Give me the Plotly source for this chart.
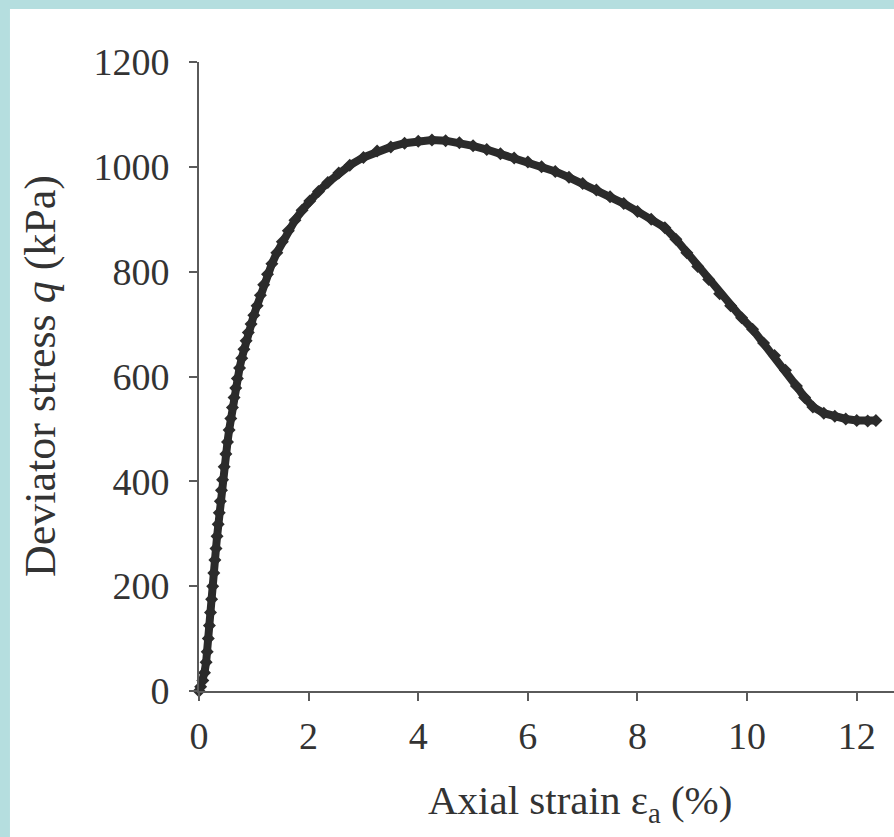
import plotly.graph_objects as go

# Axial strain (%) and deviator stress q (kPa) from the triaxial test
strain = [
    0.00, 0.03, 0.07, 0.10, 0.13, 0.15, 0.17, 0.19, 0.21, 0.23,
    0.25, 0.27, 0.29, 0.31, 0.33, 0.35, 0.37, 0.39, 0.41, 0.43,
    0.46, 0.49, 0.52, 0.55, 0.58, 0.61, 0.64, 0.67, 0.70, 0.74,
    0.78, 0.82, 0.86, 0.90, 0.95, 1.00, 1.06, 1.12, 1.18, 1.25,
    1.33, 1.42, 1.52, 1.63, 1.75, 1.88, 2.02, 2.18, 2.35, 2.55,
    2.75, 3.00, 3.25, 3.50, 3.75, 4.00, 4.25, 4.50, 4.75, 5.00,
    5.25, 5.50, 5.75, 6.00, 6.25, 6.50, 6.75, 7.00, 7.25, 7.50,
    7.75, 8.00, 8.25, 8.50, 8.70, 8.90, 9.10, 9.30, 9.50, 9.70,
    9.90, 10.10, 10.30, 10.50, 10.70, 10.90, 11.05, 11.20, 11.40, 11.60,
    11.80, 12.00, 12.20, 12.35,
]
stress = [
    0, 8, 20, 35, 55, 75, 100, 125, 150, 175,
    200, 225, 250, 272, 295, 318, 340, 362, 383, 403,
    428, 452, 475, 498, 520, 541, 560, 578, 596, 616,
    635, 652, 668, 684, 700, 717, 735, 755, 775, 795,
    815, 836, 857, 878, 898, 917, 935, 953, 970, 988,
    1003, 1018, 1030, 1038, 1045, 1049, 1051, 1050, 1046, 1040,
    1033, 1025, 1017, 1009, 1000, 991, 980, 968, 956, 943,
    930, 915, 900, 884, 862, 836, 810, 785, 758, 735,
    712, 690, 664, 640, 612, 582, 560, 542, 530, 524,
    519, 516, 515, 516,
]

x_ticks = [0, 2, 4, 6, 8, 10, 12]
y_ticks = [0, 200, 400, 600, 800, 1000, 1200]

FONT = "Liberation Serif"
INK = "#2b2b2b"
AXIS = "#5a5a5a"
FRAME = "#b5dedf"

fig = go.Figure()
fig.add_trace(go.Scatter(
    x=strain, y=stress, mode="lines+markers",
    line=dict(color=INK, width=8),
    marker=dict(symbol="diamond", size=10, color=INK),
    cliponaxis=False, showlegend=False,
))

axis_common = dict(
    showgrid=False, zeroline=False, showline=True, linecolor=AXIS, linewidth=2,
    ticks="outside", ticklen=8, tickwidth=2, tickcolor=AXIS,
    tickfont=dict(family=FONT, size=38, color="#333333"),
)
fig.update_xaxes(range=[0, 12.68], tickvals=x_ticks, ticklabelstandoff=2, **axis_common)
fig.update_yaxes(range=[0, 1200], tickvals=y_ticks, ticklabelstandoff=12, **axis_common)

# white page inside a light frame along the top and left edges
fig.add_shape(type="rect", xref="paper", yref="paper",
              x0=-0.272, x1=1.0, y0=-0.2321, y1=1.0843,
              fillcolor="white", line_width=0, layer="below")

fig.add_annotation(text="Axial strain ε<sub>a</sub> (%)", xref="paper", yref="paper",
                   x=0.548, y=-0.133, xanchor="center", yanchor="top", showarrow=False,
                   font=dict(family=FONT, size=41, color="#333333"))
fig.add_annotation(text="Deviator stress <i>q</i> (kPa)", xref="paper", yref="paper",
                   x=-0.228, y=0.5, xanchor="center", yanchor="middle", textangle=-90,
                   showarrow=False, font=dict(family=FONT, size=44, color="#333333"))

fig.update_layout(
    width=894, height=837,
    margin=dict(l=199, r=0, t=62, b=146),
    paper_bgcolor=FRAME, plot_bgcolor="white",
)

fig.write_html("out.html")
